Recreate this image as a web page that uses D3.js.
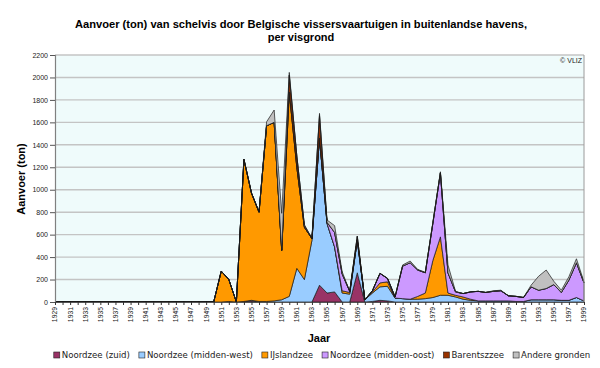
<!DOCTYPE html>
<html><head><meta charset="utf-8">
<script src="https://cdn.jsdelivr.net/npm/d3@7/dist/d3.min.js"></script>
<style>body{margin:0;background:#fff}svg{display:block}</style>
</head><body>
<svg id="chart" width="600" height="368"></svg>
<script>
const years = [1929,1930,1931,1932,1933,1934,1935,1936,1937,1938,1939,1940,1941,1942,1943,1944,1945,1946,1947,1948,1949,
  1950,1951,1952,1953,1954,1955,1956,1957,1958,1959,1960,1961,1962,1963,1964,1965,1966,1967,1968,1969,
  1970,1971,1972,1973,1974,1975,1976,1977,1978,1979,1980,1981,1982,1983,1984,1985,1986,1987,1988,1989,
  1990,1991,1992,1993,1994,1995,1996,1997,1998,1999];
const pre1950 = [0,0,0,0,0,0,0,0,0,0,0,0,0,0,0,0,0,0,0,0,0];
// 1950..1999
const noordzeeZuid = pre1950.concat([
  0,0,0,0,5,10,0,0,0,0,
  0,0,0,0,150,80,90,0,0,260,
  0,5,15,10,0,0,0,0,0,0,
  0,0,0,0,0,0,0,0,0,0,
  0,0,0,0,0,0,0,0,0,0]);
const noordzeeMiddenWest = pre1950.concat([
  0,0,5,0,0,5,5,5,10,20,
  50,300,200,550,1310,620,400,80,70,290,
  20,75,120,130,35,30,25,25,30,40,
  60,60,45,25,15,10,10,10,10,10,
  5,5,20,20,20,20,15,15,40,10]);
const ijslandzee = pre1950.concat([
  0,275,195,0,1265,955,795,1565,1590,440,
  1820,900,465,15,0,0,0,20,15,0,
  0,10,35,40,0,0,0,25,50,330,
  520,20,15,20,10,0,0,0,0,0,
  0,0,0,0,0,0,0,0,0,0]);
const noordzeeMiddenOost = pre1950.concat([
  0,0,0,0,0,0,0,0,0,0,
  0,0,0,0,0,10,130,150,10,0,
  0,10,85,30,10,290,325,235,180,330,
  570,180,30,30,65,85,75,85,90,45,
  45,35,115,85,100,135,70,180,310,160]);
const barentszzee = pre1950.concat([
  0,0,0,0,0,0,0,0,0,0,
  150,100,15,0,200,0,0,0,0,35,
  0,0,0,0,0,0,0,0,0,0,
  0,0,0,0,0,0,0,0,0,0,
  0,0,0,0,0,0,0,0,0,0]);
const andereGronden = pre1950.concat([
  0,0,0,0,0,0,0,35,110,330,
  25,0,10,0,20,20,60,20,0,0,
  0,0,0,0,0,10,15,5,5,10,
  10,70,5,0,0,0,0,5,5,0,
  0,0,15,125,165,30,20,30,35,10]);

const seriesNames = ["Noordzee (zuid)","Noordzee (midden-west)","IJslandzee","Noordzee (midden-oost)","Barentszzee","Andere gronden"];
const seriesValues = [noordzeeZuid,noordzeeMiddenWest,ijslandzee,noordzeeMiddenOost,barentszzee,andereGronden];
const seriesColors = ["#993366","#99CCFF","#FF9900","#CC99FF","#993300","#C0C0C0"];
const yTicks = [0,200,400,600,800,1000,1200,1400,1600,1800,2000,2200];
const xTickLabels = years.filter((y,i)=>i%2===0);

const svg = d3.select("#chart");
const x = d3.scaleLinear().domain([1929,1999]).range([55,584]);
const y = d3.scaleLinear().domain([0,2200]).range([302,55]);

// plot background
svg.append("rect").attr("x",x(1929)).attr("y",y(2200))
  .attr("width",x(1999)-x(1929)).attr("height",y(0)-y(2200)).attr("fill","#EFFBFB");

// grid
svg.append("g").selectAll("line").data(yTicks.filter(d=>d>0)).join("line")
  .attr("x1",x(1929)).attr("x2",x(1999)).attr("y1",d=>y(d)).attr("y2",d=>y(d))
  .attr("stroke","#C4C4C4").attr("stroke-width",1.4);

// stacked areas
const table = years.map((yr,i)=>{const o={year:yr}; seriesNames.forEach((n,k)=>o[n]=seriesValues[k][i]); return o;});
const stacked = d3.stack().keys(seriesNames)(table);
const area = d3.area().x(d=>x(d.data.year)).y0(d=>y(d[0])).y1(d=>y(d[1]));
svg.append("g").selectAll("path").data(stacked).join("path")
  .attr("d",area).attr("fill",(d,i)=>seriesColors[i])
  .attr("stroke","#1a1a1a").attr("stroke-width",0.7).attr("stroke-linejoin","round");

// right border
svg.append("line").attr("x1",x(1999)).attr("x2",x(1999)).attr("y1",y(2200)).attr("y2",y(0))
  .attr("stroke","#9a9a9a").attr("stroke-width",1);

// y axis
const yAxis = svg.append("g").attr("transform",`translate(${x(1929)},0)`)
  .call(d3.axisLeft(y).tickValues(yTicks).tickSize(5).tickPadding(2).tickFormat(d3.format("d")));
yAxis.select(".domain").attr("stroke","#808080").attr("stroke-width",1.2);
yAxis.selectAll(".tick line").attr("stroke","#555");
yAxis.selectAll("text").attr("font-family","Liberation Sans, Arial, sans-serif").attr("font-size","7px").attr("fill","#222");

// x axis
const xAxis = svg.append("g").attr("transform",`translate(0,${y(0)})`)
  .call(d3.axisBottom(x).tickValues(years).tickSize(3).tickFormat(""));
xAxis.select(".domain").attr("stroke","#555").attr("stroke-width",1);
xAxis.selectAll(".tick line").attr("stroke","#333");
svg.append("g").selectAll("text").data(xTickLabels).join("text")
  .attr("transform",d=>`translate(${x(d)},${y(0)+5}) rotate(-90)`)
  .attr("text-anchor","end").attr("dy","0.35em")
  .attr("font-family","Liberation Sans, Arial, sans-serif").attr("font-size","6.8px").attr("fill","#222")
  .text(d=>d);

// titles
const titleFont = "Liberation Sans Narrow, Liberation Sans, Arial, sans-serif";
svg.append("text").attr("x",301).attr("y",28).attr("text-anchor","middle")
  .attr("font-family",titleFont).attr("font-weight","bold").attr("font-size","11px")
  .attr("textLength",452).attr("lengthAdjust","spacingAndGlyphs")
  .text("Aanvoer (ton) van schelvis door Belgische vissersvaartuigen in buitenlandse havens,");
svg.append("text").attr("x",301).attr("y",41).attr("text-anchor","middle")
  .attr("font-family",titleFont).attr("font-weight","bold").attr("font-size","11px")
  .text("per visgrond");
svg.append("text").attr("x",582).attr("y",63).attr("text-anchor","end")
  .attr("font-family","Liberation Sans, Arial, sans-serif").attr("font-size","7px").attr("fill","#222")
  .text("© VLIZ");
svg.append("text").attr("transform","translate(25,179) rotate(-90)").attr("text-anchor","middle")
  .attr("font-family",titleFont).attr("font-weight","bold").attr("font-size","11px")
  .text("Aanvoer (ton)");
svg.append("text").attr("x",319).attr("y",342).attr("text-anchor","middle")
  .attr("font-family",titleFont).attr("font-weight","bold").attr("font-size","11px")
  .text("Jaar");

// legend
const leg = svg.append("g");
const legItems = leg.selectAll("g").data(seriesNames).join("g");
legItems.append("rect").attr("width",6).attr("height",6).attr("y",-6)
  .attr("fill",(d,i)=>seriesColors[i]).attr("stroke","#222").attr("stroke-width",0.6);
legItems.append("text").attr("x",8).attr("y",0)
  .attr("font-family","DejaVu Sans, Verdana, sans-serif").attr("font-size","8.6px").attr("fill","#222")
  .text(d=>d);
let cx = 0; const pos = [];
legItems.each(function(){ const w = this.getBBox().width; pos.push(cx); cx += w + 9; });
const total = cx - 9;
legItems.attr("transform",(d,i)=>`translate(${pos[i]},0)`);
leg.attr("transform",`translate(${322 - total/2},358)`);
</script>
</body></html>
